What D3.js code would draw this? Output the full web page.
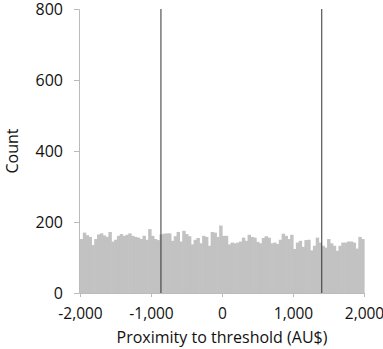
<html>
<head>
    <meta charset="utf-8">
    <script src="https://d3js.org/d3.v7.min.js"></script>
</head>
<body style="margin:0">
    <svg id="hist" width="383" height="349"></svg>
</body>
<style>
    text{font-family: "Open Sans", sans-serif; fill:#111}
</style>
<script>
    // histogram bins of 40 AU$ from -2000 to 2000
    const binStart = -2000
    const binWidth = 40
    const counts = [152,170,163,158,135,152,165,168,162,158,
                    172,145,150,161,166,161,164,168,161,158,
                    156,152,161,150,180,161,152,149,165,167,
                    168,168,147,160,172,145,175,166,160,137,
                    150,155,140,161,158,133,172,170,158,190,
                    161,161,137,142,140,142,145,156,147,164,
                    158,156,144,140,155,160,156,140,142,138,
                    150,167,161,152,164,124,142,147,130,149,
                    150,120,133,156,142,133,128,152,140,133,
                    119,133,142,142,145,145,142,125,158,152]
    const thresholds = [-860, 1405]
    const yTicks = [0,200,400,600,800]
    const xTicks = [-2000,-1000,0,1000,2000]

    let svg = d3.select('svg#hist')
    const margin = {top:9, right:19, bottom:56, left:80}
    const width = +svg.attr('width')
    const height = +svg.attr('height')

    let x = d3.scaleLinear().domain([-2000,2000]).range([margin.left, width-margin.right])
    let y = d3.scaleLinear().domain([0,800]).range([height-margin.bottom, margin.top])
    const fmt = d => d3.format(',')(d).replace('\u2212','-')

    let bins = counts.map((c,i)=>({x0: binStart+i*binWidth, x1: binStart+(i+1)*binWidth, count:c}))

    svg.append('g').selectAll('rect')
       .data(bins)
       .join('rect')
       .attr('x', d=>x(d.x0))
       .attr('width', d=>x(d.x1)-x(d.x0)+0.6)
       .attr('y', d=>y(d.count))
       .attr('height', d=>y(0)-y(d.count))
       .attr('fill','#c2c2c2')

    svg.append('g').selectAll('line')
       .data(thresholds)
       .join('line')
       .attr('x1', d=>x(d)).attr('x2', d=>x(d))
       .attr('y1', y(800)).attr('y2', y(0))
       .attr('stroke','#333')
       .attr('stroke-width',1)

    let yaxis = svg.append('g')
        .attr('transform',`translate(${margin.left-1},0)`)
        .call(d3.axisLeft(y).tickValues(yTicks).tickSize(5).tickPadding(11).tickFormat(fmt))
    yaxis.selectAll('line').attr('stroke','#bbb')
    yaxis.select('path.domain').attr('stroke','#bbb')
    yaxis.selectAll('text').attr('font-size','16px').attr('fill','#111')

    let xaxis = svg.append('g')
        .attr('transform',`translate(0,${y(0)})`)
        .call(d3.axisBottom(x).tickValues(xTicks).tickSize(4).tickPadding(11).tickFormat(fmt))
    xaxis.selectAll('line').attr('stroke','#bbb')
    xaxis.select('path.domain').attr('stroke','#bbb')
    xaxis.selectAll('text').attr('font-size','15.5px').attr('fill','#111')

    svg.append('text')
       .text('Proximity to threshold (AU$)')
       .attr('x', x(0)).attr('y', 343)
       .attr('text-anchor','middle')
       .attr('font-size','16px')

    svg.append('text')
       .text('Count')
       .attr('transform',`translate(18,${(y(0)+y(800))/2}) rotate(-90)`)
       .attr('text-anchor','middle')
       .attr('font-size','16px')
</script>
</html>
